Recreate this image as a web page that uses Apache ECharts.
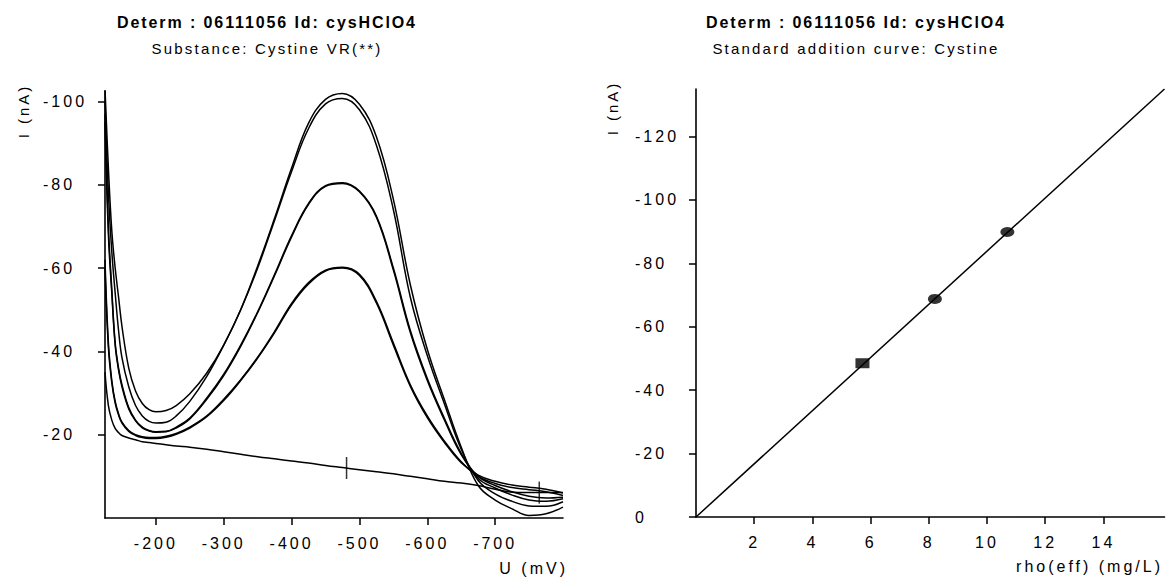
<!DOCTYPE html>
<html><head><meta charset="utf-8">
<script src="https://cdn.jsdelivr.net/npm/echarts@6/dist/echarts.min.js"></script>
<style>
html,body{margin:0;padding:0;background:#fff;}
#c{width:1166px;height:581px;}
#c text{letter-spacing:3px;}
</style></head><body><div id="c"></div>
<script>
// ---- Left chart: voltammograms, U (mV) vs I (nA)
const potential = [-125, -130, -135, -140, -145, -150, -160, -170, -180, -190, -200, -215, -230, -250, -275, -300, -325, -350, -375, -400, -425, -450, -475, -500, -525, -550, -575, -600, -625, -650, -675, -700, -725, -750, -775, -800];
const add2a = [-103, -84, -69, -60, -53, -46, -36, -30.5, -27.5, -26, -25.5, -25.8, -27, -29.8, -34.8, -41.5, -50, -60.5, -72, -84, -94.8, -100.5, -101.9, -99.3, -91.5, -76.5, -56, -40.5, -28.5, -17, -7.8, -4.3, -2.2, -0.6, -1.0, -2.6];
const add2b = [-100, -78, -64, -54, -45, -38.5, -31.5, -27, -24.5, -23.2, -22.8, -23, -24.5, -28, -34, -41.5, -50, -60, -71.5, -83.2, -93.5, -99.4, -100.7, -98, -89.5, -74, -53, -39, -27.5, -16.5, -9, -5.8, -4, -2.9, -2.8, -3.9];
const add1a = [-97, -70, -55, -42, -36, -32, -26.5, -23.5, -21.8, -21, -20.7, -20.8, -21.8, -24, -28.8, -34.5, -41.5, -49.5, -58.5, -67.8, -75.5, -79.8, -80.5, -78.5, -72.5, -60, -45, -33.5, -24, -15.5, -9.5, -7.2, -5.5, -4.3, -4.0, -4.6];
const add1b = [-95, -68, -54, -41.5, -35.5, -31.5, -26.2, -23.3, -21.6, -20.9, -20.6, -20.7, -21.6, -23.8, -28.5, -34.2, -41.2, -49.3, -58.2, -67.5, -75.3, -79.6, -80.3, -78.3, -72.2, -59.5, -44.5, -33, -23.6, -15.2, -10, -7.8, -6.3, -5.2, -4.8, -5.0];
const sampleA = [-62, -42, -33, -28, -25, -23, -21, -20, -19.5, -19.3, -19.3, -19.6, -20.3, -21.8, -24.5, -28.5, -33.2, -38.6, -44.8, -51.5, -56.5, -59.5, -60.2, -58.5, -52, -42, -32, -24.5, -18.5, -13.5, -10, -8.3, -7.3, -6.8, -6.3, -5.4];
const sampleB = [-60, -41, -32.5, -27.6, -24.7, -22.8, -20.8, -19.8, -19.3, -19.1, -19.1, -19.4, -20.1, -21.6, -24.3, -28.2, -33, -38.4, -44.5, -51.2, -56.2, -59.3, -60.0, -58.2, -51.6, -41.5, -31.6, -24.1, -18.2, -13.3, -10.3, -8.8, -7.9, -7.4, -6.9, -6.0];
const baseline = [-35, -27, -23.5, -21.5, -20.5, -19.8, -19.2, -18.8, -18.3, -18.1, -17.9, -17.6, -17.3, -17.0, -16.5, -15.9, -15.3, -14.7, -14.2, -13.7, -13.2, -12.6, -12.1, -11.6, -11.1, -10.6, -10.0, -9.4, -8.8, -8.4, -7.8, -6.9, -6.2, -6.1, -6.1, -6.1];
const markU = [-481, -765];
const markI = [-12.0, -6.1];
const leftXTicks = [-200, -300, -400, -500, -600, -700];
const leftYTicks = [-100, -80, -60, -40, -20];

// ---- Right chart: standard addition curve
const sampleRho = [5.72];
const samplePeak = [-48.5];
const addRho = [8.21, 10.70];
const addPeak = [-68.8, -89.9];
const fitRho = [0, 16.1];
const fitPeak = [0, -135];
const rightXTicks = [2, 4, 6, 8, 10, 12, 14];
const rightYTicks = [0, -20, -40, -60, -80, -100, -120];

const titleMain = 'Determ : 06111056 Id: cysHClO4';
const leftSub = 'Substance: Cystine VR(**)';
const rightSub = 'Standard addition curve: Cystine';

const FONT = '"Liberation Sans", Arial, sans-serif';
const pair = (xs, ys) => xs.map((x, i) => [x, ys[i]]);
const curve = (ys) => ({
  type: 'line', xAxisIndex: 0, yAxisIndex: 0, data: pair(potential, ys),
  symbol: 'none', smooth: 0.4, silent: true,
  lineStyle: { color: '#000', width: 1.5 }
});
const axLine = { show: true, onZero: false, lineStyle: { color: '#000', width: 1.6 } };
const tick = (vals) => ({ show: true, inside: false, length: 7, customValues: vals, lineStyle: { color: '#000', width: 1.5 } });
const lab = (vals, extra) => Object.assign({ customValues: vals, color: '#000', fontFamily: FONT, fontSize: 16 }, extra);
const titleStyle = { fontFamily: FONT, fontSize: 16, fontWeight: 'bold', color: '#000' };
const subStyle = { fontFamily: FONT, fontSize: 15, color: '#000' };

const chart = echarts.init(document.getElementById('c'), null, { renderer: 'svg' });
chart.setOption({
  animation: false,
  title: [
    { text: titleMain, subtext: leftSub, left: 267, top: 14, textAlign: 'center', padding: 0, itemGap: 11,
      textStyle: titleStyle, subtextStyle: subStyle },
    { text: titleMain, subtext: rightSub, left: 856, top: 14, textAlign: 'center', padding: 0, itemGap: 11,
      textStyle: titleStyle, subtextStyle: subStyle }
  ],
  grid: [
    { left: 105, right: 603, top: 91, bottom: 63 },
    { left: 696, right: 1.5, top: 89, bottom: 64 }
  ],
  xAxis: [
    { type: 'value', gridIndex: 0, min: -800, max: -125, inverse: true, position: 'bottom',
      axisLine: axLine, axisTick: tick(leftXTicks), axisLabel: lab(leftXTicks, { margin: 17 }), splitLine: { show: false } },
    { type: 'value', gridIndex: 1, min: 0, max: 16.1, position: 'bottom',
      axisLine: axLine, axisTick: tick(rightXTicks), axisLabel: lab(rightXTicks, { margin: 17 }), splitLine: { show: false } }
  ],
  yAxis: [
    { type: 'value', gridIndex: 0, min: -102.5, max: 0, inverse: true,
      axisLine: axLine, axisTick: tick(leftYTicks), axisLabel: lab(leftYTicks, { margin: 62, align: 'left' }), splitLine: { show: false } },
    { type: 'value', gridIndex: 1, min: -135, max: 0, inverse: true,
      axisLine: axLine, axisTick: tick(rightYTicks), axisLabel: lab(rightYTicks, { margin: 61, align: 'left' }), splitLine: { show: false } }
  ],
  graphic: [
    { type: 'text', x: 23, y: 111, rotation: Math.PI / 2, style: { text: 'I (nA)', font: '15px "Liberation Sans", Arial', fill: '#000', textAlign: 'center', textVerticalAlign: 'middle' } },
    { type: 'text', x: 612, y: 108, rotation: Math.PI / 2, style: { text: 'I (nA)', font: '15px "Liberation Sans", Arial', fill: '#000', textAlign: 'center', textVerticalAlign: 'middle' } },
    { type: 'text', x: 568, y: 568, style: { text: 'U (mV)', font: '16px "Liberation Sans", Arial', fill: '#000', textAlign: 'right', textVerticalAlign: 'middle' } },
    { type: 'text', x: 1163, y: 566, style: { text: 'rho(eff) (mg/L)', font: '16px "Liberation Sans", Arial', fill: '#000', textAlign: 'right', textVerticalAlign: 'middle' } }
  ],
  series: [
    curve(baseline), curve(sampleA), curve(sampleB), curve(add1a), curve(add1b), curve(add2a), curve(add2b),
    { type: 'scatter', xAxisIndex: 0, yAxisIndex: 0, data: pair(markU, markI), symbol: 'rect', symbolSize: [1.5, 22], itemStyle: { color: '#000' }, silent: true },
    { type: 'line', xAxisIndex: 1, yAxisIndex: 1, data: pair(fitRho, fitPeak), symbol: 'none', lineStyle: { color: '#000', width: 1.5 }, silent: true, z: 1 },
    { type: 'scatter', xAxisIndex: 1, yAxisIndex: 1, data: pair(sampleRho, samplePeak), symbol: 'rect', symbolSize: [14, 10], itemStyle: { color: '#000' }, silent: true, z: 3 },
    { type: 'scatter', xAxisIndex: 1, yAxisIndex: 1, data: pair(addRho, addPeak), symbol: 'circle', symbolSize: [14, 10], itemStyle: { color: '#000' }, silent: true, z: 3 }
  ]
});
function styleTitles() {
  document.querySelectorAll('#c text').forEach(t => {
    const s = t.textContent;
    if (s === titleMain) t.style.letterSpacing = '1.9px';
    else if (s === leftSub || s === rightSub) t.style.letterSpacing = '2.2px';
  });
}
styleTitles();
chart.on('finished', styleTitles);
</script></body></html>
